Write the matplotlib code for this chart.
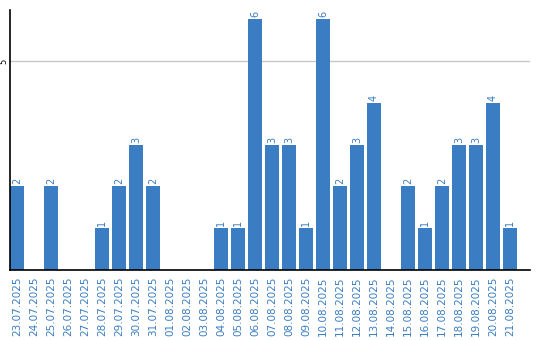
import matplotlib.pyplot as plt
import numpy as np

dates = ['23.07.2025', '24.07.2025', '25.07.2025', '26.07.2025', '27.07.2025',
         '28.07.2025', '29.07.2025', '30.07.2025', '31.07.2025', '01.08.2025',
         '02.08.2025', '03.08.2025', '04.08.2025', '05.08.2025', '06.08.2025',
         '07.08.2025', '08.08.2025', '09.08.2025', '10.08.2025', '11.08.2025',
         '12.08.2025', '13.08.2025', '14.08.2025', '15.08.2025', '16.08.2025',
         '17.08.2025', '18.08.2025', '19.08.2025', '20.08.2025', '21.08.2025']
counts = [2, 0, 2, 0, 0, 1, 2, 3, 2, 0,
          0, 0, 1, 1, 6, 3, 3, 1, 6, 2,
          3, 4, 0, 2, 1, 2, 3, 3, 4, 1]

blue = '#3a7dc2'
width = 0.82

fig = plt.figure(figsize=(5.4, 3.4), dpi=100)
ax = fig.add_axes([10 / 540, 70 / 340, 520 / 540, 260 / 340])

x = np.arange(len(dates))
ax.bar(x, counts, width=width, align='edge', color=blue, zorder=2)

for xi, c in zip(x, counts):
    if c > 0:
        ax.text(xi + width / 2, c + 0.05, str(c), rotation=90, ha='center',
                va='bottom', color=blue, fontsize=7)

ax.set_xlim(0, 520 / 17)
ax.set_ylim(0, 6.22)
ax.set_xticks(x + width / 2)
ax.set_xticklabels(dates, rotation=90, color=blue, fontsize=7.5)
ax.tick_params(axis='x', length=0, pad=5)
ax.set_yticks([5])
ax.set_yticklabels(['5'], rotation=90, va='center', fontsize=6)
ax.tick_params(axis='y', length=0, pad=1.5)
ax.grid(axis='y', color='#c8c8c8', linewidth=1, zorder=0)

for s in ['top', 'right']:
    ax.spines[s].set_visible(False)
ax.spines['left'].set_linewidth(1.2)
ax.spines['bottom'].set_linewidth(1.2)

fig.savefig('out.png', dpi=100)
